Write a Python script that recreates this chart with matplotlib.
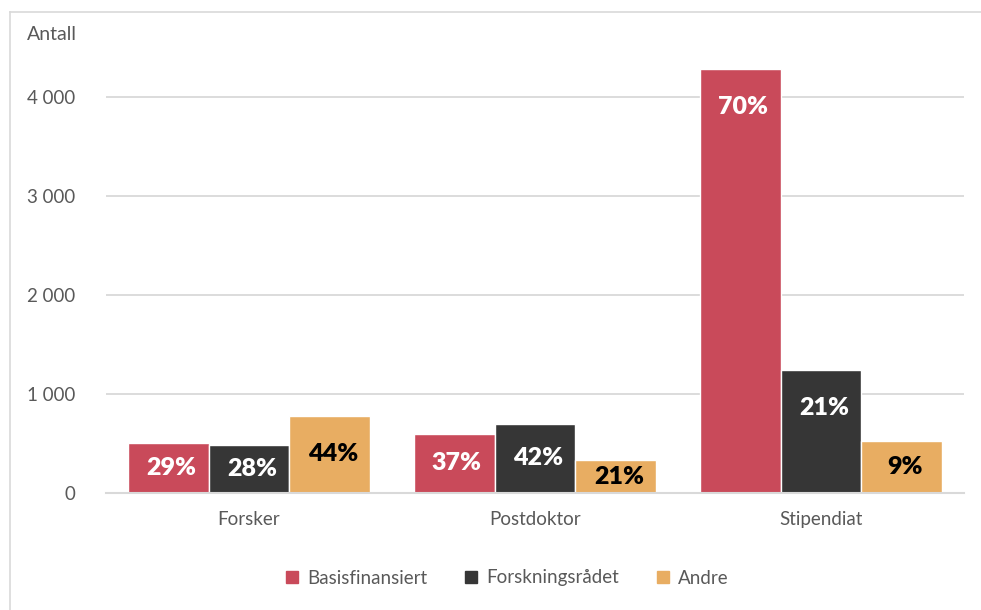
import matplotlib
matplotlib.use("Agg")
import matplotlib.pyplot as plt
import numpy as np
from matplotlib.lines import Line2D

categories = ["Forsker", "Postdoktor", "Stipendiat"]
series_names = ["Basisfinansiert", "Forskningsrådet", "Andre"]
basis = [505, 596, 4283]
forsk = [485, 697, 1242]
andre = [778, 333, 525]
pct_basis = ["29%", "37%", "70%"]
pct_forsk = ["28%", "42%", "21%"]
pct_andre = ["44%", "21%", "9%"]
yticks = [0, 1000, 2000, 3000, 4000]
ytick_labels = ["0", "1 000", "2 000", "3 000", "4 000"]

colors = ["#C94A5A", "#363636", "#E8AD62"]
label_colors = ["white", "white", "black"]
font = ["Lato", "DejaVu Sans"]
gray = "#595959"

fig = plt.figure(figsize=(9.81, 6.10), dpi=100)
W, H = 981, 610
ax = fig.add_axes([106 / W, 1 - 493 / H, 858 / W, (493 - 47.5) / H])

x = np.arange(len(categories))
bw = 0.283
values = [basis, forsk, andre]
pcts = [pct_basis, pct_forsk, pct_andre]
px_per_unit = (493 - 47.5) / 4500.0
for i, (vals, pc) in enumerate(zip(values, pcts)):
    xs = x + (i - 1) * bw
    ax.bar(xs, vals, width=bw, color=colors[i], edgecolor="white", linewidth=1.0,
           zorder=3, label=series_names[i])
    for xi, v, t in zip(xs, vals, pc):
        off = 38 / px_per_unit
        y = max(v - off, v / 2)
        ax.text(xi + 0.01, y, t, ha="center", va="center", color=label_colors[i],
                fontsize=18, fontweight="heavy", family=font, zorder=4)

ax.set_xlim(-0.5, 2.5)
ax.set_ylim(0, 4500)
ax.set_yticks(yticks)
ax.set_yticklabels(ytick_labels)
ax.set_xticks(x)
ax.set_xticklabels(categories)
for lab in ax.get_xticklabels() + ax.get_yticklabels():
    lab.set_family(font)
    lab.set_fontsize(13.5)
    lab.set_color(gray)
ax.tick_params(axis="both", length=0)
ax.tick_params(axis="y", pad=22)
ax.tick_params(axis="x", pad=13)
ax.grid(axis="y", color="#D9D9D9", linewidth=1.3, zorder=0)
for s in ["top", "right", "left"]:
    ax.spines[s].set_visible(False)
ax.spines["bottom"].set_color("#D9D9D9")
ax.spines["bottom"].set_linewidth(1.5)
ax.spines["bottom"].set_zorder(5)

fig.text(27 / W, 1 - 35 / H, "Antall", ha="left", va="center", fontsize=14,
         color=gray, family=font)

handles = [Line2D([0], [0], marker="s", linestyle="none", markersize=9,
                  markerfacecolor=c, markeredgecolor=c) for c in colors]
leg = fig.legend(handles, series_names, loc="center", bbox_to_anchor=(507 / W, 1 - 578 / H),
                 ncol=3, frameon=False, handlelength=0.7, handletextpad=0.45,
                 columnspacing=2.0, prop={"family": font, "size": 13.5})
for t in leg.get_texts():
    t.set_color(gray)

# outer frame (top and left visible)
fig.add_artist(Line2D([10 / W, 10 / W], [0, 1 - 12 / H], transform=fig.transFigure,
                      color="#D9D9D9", linewidth=1.2))
fig.add_artist(Line2D([10 / W, 1], [1 - 12 / H, 1 - 12 / H], transform=fig.transFigure,
                      color="#D9D9D9", linewidth=1.2))

fig.savefig("out.png", dpi=100)
